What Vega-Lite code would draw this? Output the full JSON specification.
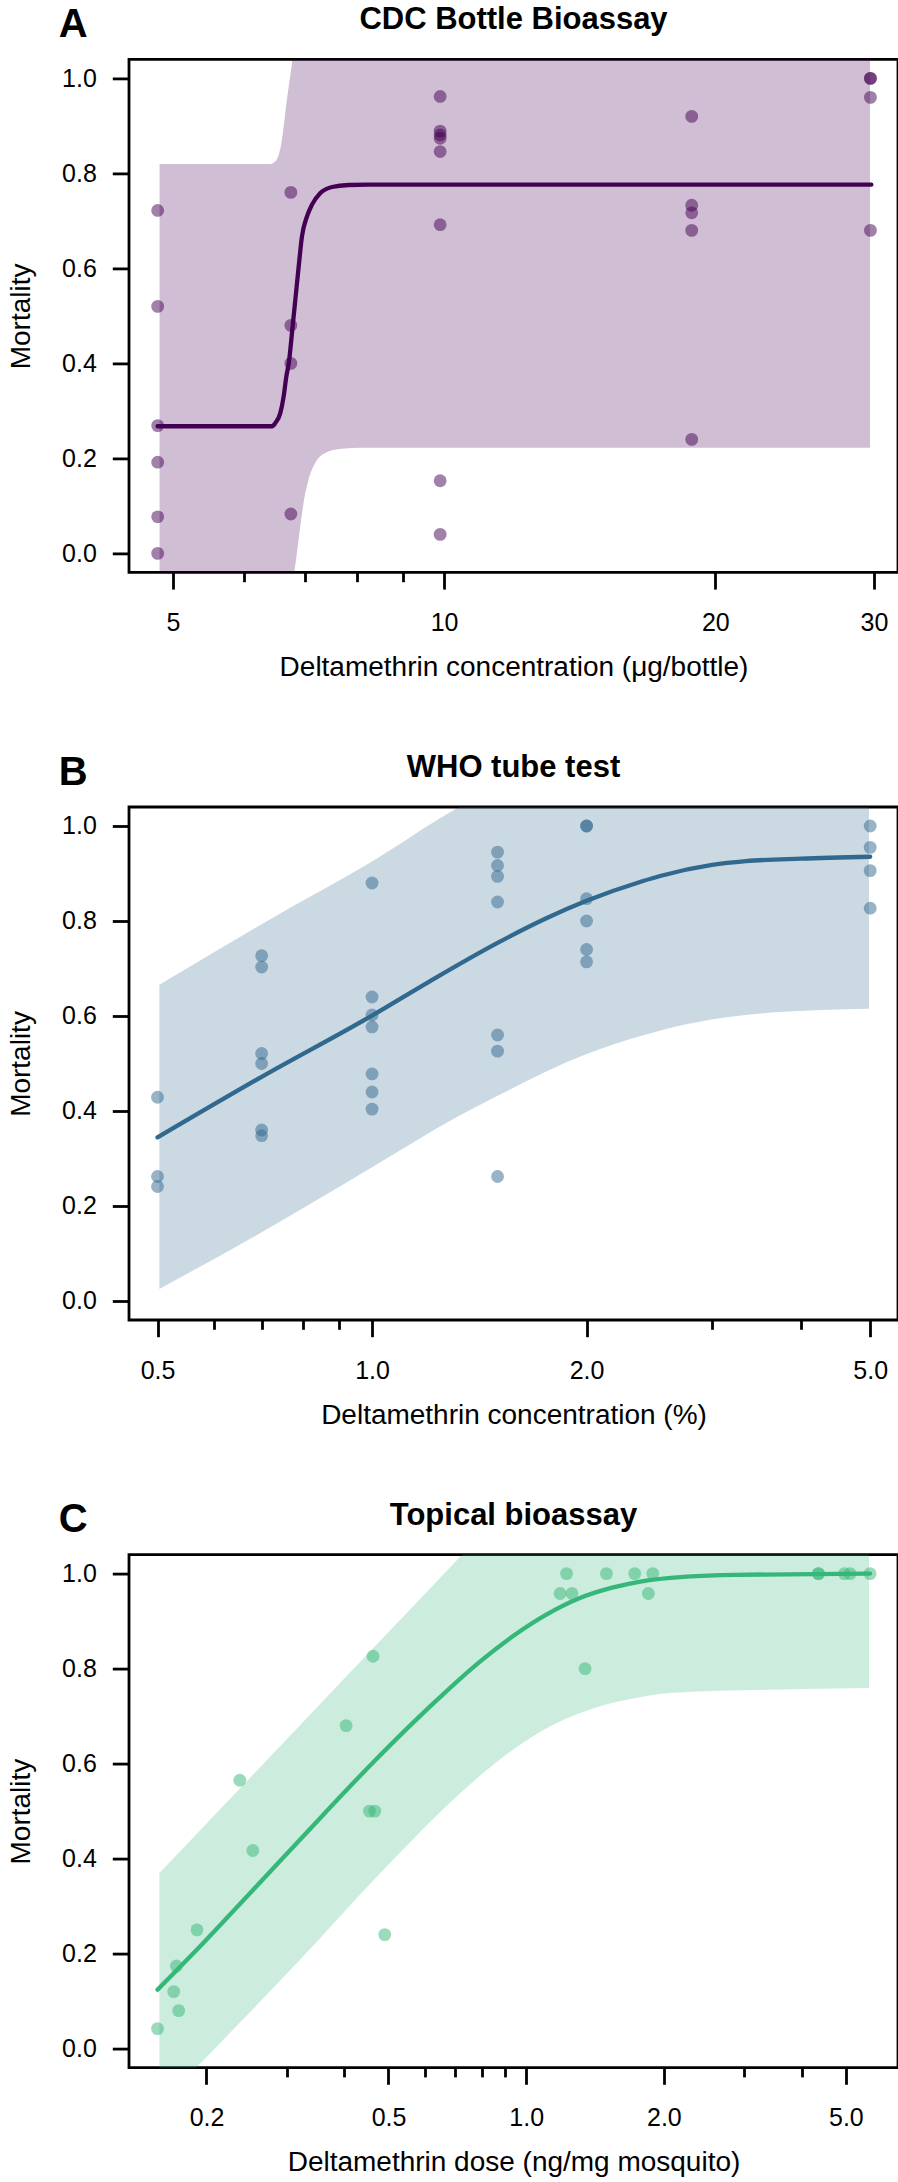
{
  "$schema": "https://vega.github.io/schema/vega-lite/v6.json",
  "padding": {"left": 5, "top": 2.4, "right": 0, "bottom": 0},
  "autosize": {"type": "pad"},
  "spacing": 66.6,
  "datasets": {
    "ptsA": [
      {"x": 4.81, "y": 0.722}, {"x": 4.81, "y": 0.52}, {"x": 4.81, "y": 0.269}, {"x": 4.81, "y": 0.192}, {"x": 4.81, "y": 0.077}, {"x": 4.81, "y": 0.0},
      {"x": 6.76, "y": 0.76}, {"x": 6.76, "y": 0.48}, {"x": 6.76, "y": 0.4}, {"x": 6.76, "y": 0.083},
      {"x": 9.9, "y": 0.962}, {"x": 9.9, "y": 0.889}, {"x": 9.9, "y": 0.881}, {"x": 9.9, "y": 0.874}, {"x": 9.9, "y": 0.846}, {"x": 9.9, "y": 0.692}, {"x": 9.9, "y": 0.153}, {"x": 9.9, "y": 0.04},
      {"x": 18.83, "y": 0.92}, {"x": 18.83, "y": 0.733}, {"x": 18.83, "y": 0.717}, {"x": 18.83, "y": 0.68}, {"x": 18.83, "y": 0.24},
      {"x": 29.73, "y": 1.0}, {"x": 29.73, "y": 1.0}, {"x": 29.73, "y": 0.96}, {"x": 29.73, "y": 0.68}
    ],
    "curveA": [
      {"x": 4.808, "y": 0.2677}, {"x": 6.443, "y": 0.2677}, {"x": 6.498, "y": 0.2748}, {"x": 6.581, "y": 0.2958}, {"x": 6.637, "y": 0.3309}, {"x": 6.683, "y": 0.373}, {"x": 6.723, "y": 0.3996}, {"x": 6.792, "y": 0.4796}, {"x": 6.838, "y": 0.5343}, {"x": 6.897, "y": 0.6044}, {"x": 6.955, "y": 0.6676}, {"x": 7.045, "y": 0.7097}, {"x": 7.135, "y": 0.7342}, {"x": 7.289, "y": 0.7588}, {"x": 7.509, "y": 0.7714}, {"x": 7.836, "y": 0.7756}, {"x": 8.245, "y": 0.7763}, {"x": 29.8, "y": 0.7763}
    ],
    "bandA": [
      {"x": 4.833, "y": 0.8198, "lo": -0.1}, {"x": 6.415, "y": 0.8198, "lo": -0.1}, {"x": 6.498, "y": 0.8254, "lo": -0.1}, {"x": 6.553, "y": 0.8394, "lo": -0.1}, {"x": 6.598, "y": 0.864, "lo": -0.1}, {"x": 6.637, "y": 0.8991, "lo": -0.1}, {"x": 6.677, "y": 0.9411, "lo": -0.1}, {"x": 6.723, "y": 0.9832, "lo": -0.1}, {"x": 6.78, "y": 1.0323, "lo": -0.09}, {"x": 6.821, "y": 1.07, "lo": -0.0409}, {"x": 6.866, "y": 1.1, "lo": 0.0012}, {"x": 6.925, "y": 1.1, "lo": 0.0573}, {"x": 6.984, "y": 1.1, "lo": 0.1064}, {"x": 7.074, "y": 1.1, "lo": 0.1555}, {"x": 7.195, "y": 1.1, "lo": 0.1906}, {"x": 7.382, "y": 1.1, "lo": 0.2116}, {"x": 7.703, "y": 1.1, "lo": 0.2201}, {"x": 8.105, "y": 1.1, "lo": 0.2222}, {"x": 29.7, "y": 1.1, "lo": 0.2222}
    ],
    "ptsB": [
      {"x": 0.5, "y": 0.429}, {"x": 0.5, "y": 0.262}, {"x": 0.5, "y": 0.241},
      {"x": 0.7, "y": 0.727}, {"x": 0.7, "y": 0.703}, {"x": 0.7, "y": 0.521}, {"x": 0.7, "y": 0.5}, {"x": 0.7, "y": 0.36}, {"x": 0.7, "y": 0.348},
      {"x": 1.0, "y": 0.88}, {"x": 1.0, "y": 0.64}, {"x": 1.0, "y": 0.602}, {"x": 1.0, "y": 0.577}, {"x": 1.0, "y": 0.478}, {"x": 1.0, "y": 0.44}, {"x": 1.0, "y": 0.404},
      {"x": 1.5, "y": 0.945}, {"x": 1.5, "y": 0.917}, {"x": 1.5, "y": 0.894}, {"x": 1.5, "y": 0.84}, {"x": 1.5, "y": 0.56}, {"x": 1.5, "y": 0.526}, {"x": 1.5, "y": 0.262},
      {"x": 2.0, "y": 1.0}, {"x": 2.0, "y": 1.0}, {"x": 2.0, "y": 0.847}, {"x": 2.0, "y": 0.8}, {"x": 2.0, "y": 0.74}, {"x": 2.0, "y": 0.714},
      {"x": 5.0, "y": 1.0}, {"x": 5.0, "y": 0.955}, {"x": 5.0, "y": 0.906}, {"x": 5.0, "y": 0.827}
    ],
    "curveB": [
      {"x": 0.5, "y": 0.3445}, {"x": 0.7, "y": 0.472}, {"x": 1.0, "y": 0.601}, {"x": 1.2, "y": 0.6715}, {"x": 1.5, "y": 0.7539}, {"x": 1.75, "y": 0.8047}, {"x": 2.0, "y": 0.8424}, {"x": 2.388, "y": 0.8832}, {"x": 2.536, "y": 0.8947}, {"x": 3.0, "y": 0.918}, {"x": 3.347, "y": 0.926}, {"x": 4.0, "y": 0.9314}, {"x": 5.0, "y": 0.9353}
    ],
    "bandB": [
      {"x": 0.503, "y": 0.6658, "lo": 0.0254}, {"x": 0.7, "y": 0.7934, "lo": 0.1446}, {"x": 1.0, "y": 0.925, "lo": 0.2814}, {"x": 1.315, "y": 1.0368, "lo": 0.3874}, {"x": 1.5, "y": 1.08, "lo": 0.4322}, {"x": 2.0, "y": 1.15, "lo": 0.52}, {"x": 2.388, "y": 1.2, "lo": 0.5585}, {"x": 2.783, "y": 1.2, "lo": 0.5837}, {"x": 3.672, "y": 1.2, "lo": 0.6077}, {"x": 4.98, "y": 1.2, "lo": 0.6155}
    ],
    "ptsC": [
      {"x": 0.1563, "y": 0.042}, {"x": 0.1719, "y": 0.174}, {"x": 0.1696, "y": 0.12}, {"x": 0.1739, "y": 0.08}, {"x": 0.1907, "y": 0.25}, {"x": 0.2365, "y": 0.565}, {"x": 0.2525, "y": 0.417},
      {"x": 0.4039, "y": 0.68}, {"x": 0.4626, "y": 0.826}, {"x": 0.4543, "y": 0.5}, {"x": 0.4667, "y": 0.5}, {"x": 0.4907, "y": 0.24},
      {"x": 1.186, "y": 0.958}, {"x": 1.259, "y": 0.958}, {"x": 1.2255, "y": 1.0}, {"x": 1.345, "y": 0.8}, {"x": 1.498, "y": 1.0}, {"x": 1.727, "y": 1.0}, {"x": 1.891, "y": 1.0}, {"x": 1.85, "y": 0.958},
      {"x": 4.355, "y": 1.0}, {"x": 4.355, "y": 1.0}, {"x": 4.965, "y": 1.0}, {"x": 5.107, "y": 1.0}, {"x": 5.647, "y": 1.0}
    ],
    "curveC": [
      {"x": 0.1563, "y": 0.1239}, {"x": 0.1907, "y": 0.2085}, {"x": 0.2525, "y": 0.3335}, {"x": 0.3236, "y": 0.4445}, {"x": 0.4039, "y": 0.5435}, {"x": 0.4683, "y": 0.6075}, {"x": 0.563, "y": 0.6842}, {"x": 0.6662, "y": 0.7505}, {"x": 0.7876, "y": 0.8125}, {"x": 0.9313, "y": 0.8668}, {"x": 1.1018, "y": 0.9125}, {"x": 1.3028, "y": 0.9475}, {"x": 1.541, "y": 0.9703}, {"x": 1.789, "y": 0.9838}, {"x": 2.239, "y": 0.9935}, {"x": 2.861, "y": 0.9975}, {"x": 5.647, "y": 1.0}
    ],
    "bandC": [
      {"x": 0.1578, "y": 0.3695, "lo": -0.121}, {"x": 0.1892, "y": 0.4492, "lo": -0.042}, {"x": 0.3131, "y": 0.6708, "lo": 0.177}, {"x": 0.4762, "y": 0.8552, "lo": 0.366}, {"x": 0.7181, "y": 1.036, "lo": 0.538}, {"x": 0.8844, "y": 1.127, "lo": 0.612}, {"x": 1.013, "y": 1.2, "lo": 0.652}, {"x": 1.137, "y": 1.2, "lo": 0.68}, {"x": 1.463, "y": 1.2, "lo": 0.722}, {"x": 1.789, "y": 1.2, "lo": 0.74}, {"x": 2.047, "y": 1.2, "lo": 0.7485}, {"x": 3.386, "y": 1.2, "lo": 0.7555}, {"x": 5.618, "y": 1.2, "lo": 0.759}
    ]
  },
  "vconcat": [
    {
      "title": {"text": "A", "anchor": "start", "frame": "bounds", "fontSize": 40, "offset": -42, "dx": 53},
      "vconcat": [
        {
          "title": {"text": "CDC Bottle Bioassay", "fontSize": 31, "offset": 23, "anchor": "middle", "frame": "group"},
          "width": 769,
          "height": 513,
          "encoding": {
            "x": {"field": "x", "type": "quantitative",
              "scale": {"type": "log", "domain": [4.47, 31.9], "nice": false, "zero": false},
              "axis": {"title": "Deltamethrin concentration (μg/bottle)", "values": [5, 6, 7, 8, 9, 10, 20, 30],
                "labelExpr": "datum.value == 5 ? '5' : datum.value == 10 ? '10' : datum.value == 20 ? '20' : datum.value == 30 ? '30' : ''",
                "tickSize": {"condition": {"test": "datum.value == 5 || datum.value == 10 || datum.value == 20 || datum.value == 30", "value": 16.7}, "value": 9.3},
                "labelPadding": 21.7, "titlePadding": 17.8}},
            "y": {"field": "y", "type": "quantitative",
              "scale": {"domain": [-0.04, 1.04], "nice": false, "zero": false},
              "axis": {"title": "Mortality", "values": [0, 0.2, 0.4, 0.6, 0.8, 1.0], "format": ".1f", "tickSize": 16.7, "labelPadding": 16, "titlePadding": 26.5}}
          },
          "layer": [
            {"data": {"name": "bandA"}, "mark": {"type": "area", "clip": true, "color": "#440154", "opacity": 0.25, "interpolate": "monotone"}, "encoding": {"y2": {"field": "lo"}}},
            {"data": {"name": "ptsA"}, "mark": {"type": "circle", "size": 165, "color": "#440154", "opacity": 0.5}},
            {"data": {"name": "curveA"}, "mark": {"type": "line", "color": "#440154", "strokeWidth": 4.3, "strokeCap": "round", "interpolate": "monotone"}}
          ]
        }
      ]
    },
    {
      "title": {"text": "B", "anchor": "start", "frame": "bounds", "fontSize": 40, "offset": -42, "dx": 53},
      "vconcat": [
        {
          "title": {"text": "WHO tube test", "fontSize": 31, "offset": 23, "anchor": "middle", "frame": "group"},
          "width": 769,
          "height": 513,
          "encoding": {
            "x": {"field": "x", "type": "quantitative",
              "scale": {"type": "log", "domain": [0.456, 5.47], "nice": false, "zero": false},
              "axis": {"title": "Deltamethrin concentration (%)", "values": [0.5, 0.6, 0.7, 0.8, 0.9, 1, 2, 3, 4, 5],
                "labelExpr": "datum.value == 0.5 ? '0.5' : datum.value == 1 ? '1.0' : datum.value == 2 ? '2.0' : datum.value == 5 ? '5.0' : ''",
                "tickSize": {"condition": {"test": "datum.value == 0.5 || datum.value == 1 || datum.value == 2 || datum.value == 5", "value": 16.7}, "value": 9.3},
                "labelPadding": 21.7, "titlePadding": 17.8}},
            "y": {"field": "y", "type": "quantitative",
              "scale": {"domain": [-0.04, 1.04], "nice": false, "zero": false},
              "axis": {"title": "Mortality", "values": [0, 0.2, 0.4, 0.6, 0.8, 1.0], "format": ".1f", "tickSize": 16.7, "labelPadding": 16, "titlePadding": 26.5}}
          },
          "layer": [
            {"data": {"name": "bandB"}, "mark": {"type": "area", "clip": true, "color": "#31688E", "opacity": 0.25, "interpolate": "monotone"}, "encoding": {"y2": {"field": "lo"}}},
            {"data": {"name": "ptsB"}, "mark": {"type": "circle", "size": 165, "color": "#31688E", "opacity": 0.5}},
            {"data": {"name": "curveB"}, "mark": {"type": "line", "color": "#31688E", "strokeWidth": 4.3, "strokeCap": "round", "interpolate": "monotone"}}
          ]
        }
      ]
    },
    {
      "title": {"text": "C", "anchor": "start", "frame": "bounds", "fontSize": 40, "offset": -42, "dx": 53},
      "vconcat": [
        {
          "title": {"text": "Topical bioassay", "fontSize": 31, "offset": 23, "anchor": "middle", "frame": "group"},
          "width": 769,
          "height": 513,
          "encoding": {
            "x": {"field": "x", "type": "quantitative",
              "scale": {"type": "log", "domain": [0.1354, 6.5], "nice": false, "zero": false},
              "axis": {"title": "Deltamethrin dose (ng/mg mosquito)", "values": [0.2, 0.3, 0.4, 0.5, 0.6, 0.7, 0.8, 0.9, 1, 2, 3, 4, 5],
                "labelExpr": "datum.value == 0.2 ? '0.2' : datum.value == 0.5 ? '0.5' : datum.value == 1 ? '1.0' : datum.value == 2 ? '2.0' : datum.value == 5 ? '5.0' : ''",
                "tickSize": {"condition": {"test": "datum.value == 0.2 || datum.value == 0.5 || datum.value == 1 || datum.value == 2 || datum.value == 5", "value": 16.7}, "value": 9.3},
                "labelPadding": 21.7, "titlePadding": 17.8}},
            "y": {"field": "y", "type": "quantitative",
              "scale": {"domain": [-0.04, 1.04], "nice": false, "zero": false},
              "axis": {"title": "Mortality", "values": [0, 0.2, 0.4, 0.6, 0.8, 1.0], "format": ".1f", "tickSize": 16.7, "labelPadding": 16, "titlePadding": 26.5}}
          },
          "layer": [
            {"data": {"name": "bandC"}, "mark": {"type": "area", "clip": true, "color": "#35B779", "opacity": 0.25, "interpolate": "monotone"}, "encoding": {"y2": {"field": "lo"}}},
            {"data": {"name": "ptsC"}, "mark": {"type": "circle", "size": 165, "color": "#35B779", "opacity": 0.5}},
            {"data": {"name": "curveC"}, "mark": {"type": "line", "color": "#35B779", "strokeWidth": 4.3, "strokeCap": "round", "interpolate": "monotone"}}
          ]
        }
      ]
    }
  ],
  "config": {
    "font": "Liberation Sans",
    "background": "white",
    "view": {"stroke": "black", "strokeWidth": 2.8},
    "axis": {"domain": false, "grid": false, "tickColor": "black", "tickWidth": 2.8, "labelColor": "black", "titleColor": "black",
      "labelFont": "Liberation Sans", "titleFont": "Liberation Sans", "labelFontSize": 25, "titleFontSize": 28, "titleFontWeight": "normal",
      "labelFlush": false, "labelOverlap": false, "labelBound": false},
    "title": {"font": "Liberation Sans", "fontWeight": "bold", "color": "black"}
  }
}
